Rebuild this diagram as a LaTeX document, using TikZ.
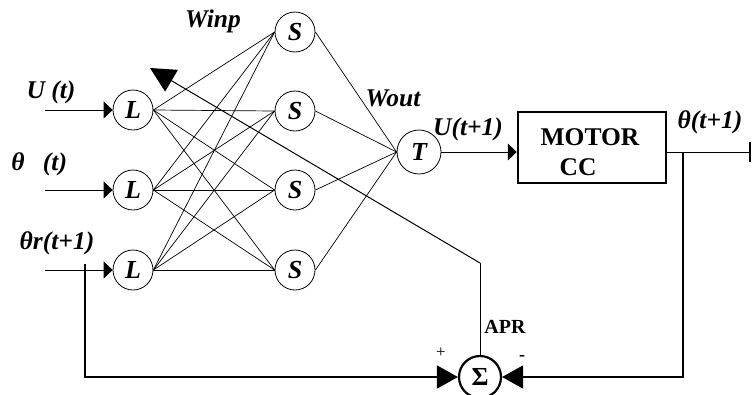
\documentclass[tikz,border=0pt]{standalone}
\usepackage{fontspec}
\setmainfont{Liberation Serif}
\usetikzlibrary{arrows.meta}
\tikzset{
  neuron/.style={circle,draw,line width=0.8pt,minimum size=40pt,inner sep=0pt,font=\fontsize{26}{28}\selectfont\bfseries\itshape},
  lbl/.style={inner sep=0pt,font=\fontsize{25.5}{27}\selectfont\bfseries\itshape},
  wire/.style={line width=0.7pt},
  inarrow/.style={line width=1pt,-{Triangle[length=9pt,width=17pt]}},
  bigarrow/.style={line width=1.6pt,-{Triangle[length=21pt,width=23pt]}},
}
\begin{document}
\begin{tikzpicture}[x=1pt,y=-1pt]
\useasboundingbox (0,0) rectangle (752,394);
% layer nodes
\node[neuron] (L1) at (133,110) {L};
\node[neuron] (L2) at (133,190) {L};
\node[neuron] (L3) at (133,270) {L};
\node[neuron] (S1) at (295,32) {S};
\node[neuron] (S2) at (295,111) {S};
\node[neuron] (S3) at (295,190) {S};
\node[neuron] (S4) at (295,270) {S};
\node[neuron,minimum size=44pt] (T) at (419,152) {T};
\node[draw,line width=2.5pt,minimum width=148pt,minimum height=71pt,inner sep=0pt] (M) at (592,147.5) {};
\node[lbl,font=\fontsize{25.5}{27}\selectfont\bfseries] (mt) at (590,137) {MOTOR};
\node[lbl,font=\fontsize{25.5}{27}\selectfont\bfseries] (cc) at (578,167) {CC};
\node[circle,draw,line width=2.2pt,minimum size=42pt,inner sep=0pt,font=\fontsize{26}{28}\selectfont\bfseries] (sig) at (480,377) {Σ};
% connections L -> S
\foreach \l in {L1,L2,L3}{
  \foreach \s in {S1,S2,S3,S4}{
    \draw[wire] (\l.east) -- (\s.west);
  }
}
\foreach \s in {S1,S2,S3,S4}{
  \draw[wire] (\s.east) -- (T.west);
}
% inputs
\coordinate (in1) at (45,110);
\coordinate (in2) at (45,190);
\coordinate (in3) at (45,270);
\draw[inarrow] (in1) -- (L1.west);
\draw[inarrow] (in2) -- (L2.west);
\draw[inarrow] (in3) -- (L3.west);
% T -> motor
\draw[inarrow] (T.east) -- (M.west |- T.east);
% output
\coordinate (out) at (750,152);
\coordinate (br) at (683,152);
\draw[line width=1pt] (M.east |- out) -- (out);
\draw[line width=1.5pt] (750,142) -- (750,162);
% feedback from output to sigma
\draw[bigarrow] (br) -- (683,377) -- (sig.east);
% reference line to sigma
\coordinate (rb) at (85,264);
\draw[bigarrow] (rb) -- (85,377) -- (sig.west);
% APR line
\coordinate (corner) at (480,263);
\coordinate (tip) at (150,68);
\draw[line width=1pt] (sig.north) -- (corner);
\draw[line width=1pt,-{Triangle[length=25pt,width=25pt]}] (corner) -- (tip);
% labels
\node[lbl] (winp) at (213,21) {Winp};
\node[lbl] (ut) at (51,92) {U (t)};
\node[lbl] (th) at (18,162) {θ};
\node[lbl] (tt) at (55,164) {(t)};
\node[lbl] (thr) at (57,243) {θr(t+1)};
\node[lbl] (wout) at (393,98) {Wout};
\node[lbl] (ut1) at (468,129) {U(t+1)};
\node[lbl] (tht1) at (710,122) {θ(t+1)};
\node[lbl,font=\fontsize{20}{22}\selectfont\bfseries] (apr) at (505,327) {APR};
\node[inner sep=0pt,font=\fontsize{17}{18}\selectfont] (plus) at (441,353) {+};
\node[inner sep=0pt,font=\fontsize{18}{18}\selectfont\bfseries] (minus) at (522,358) {-};
\end{tikzpicture}
\end{document}
